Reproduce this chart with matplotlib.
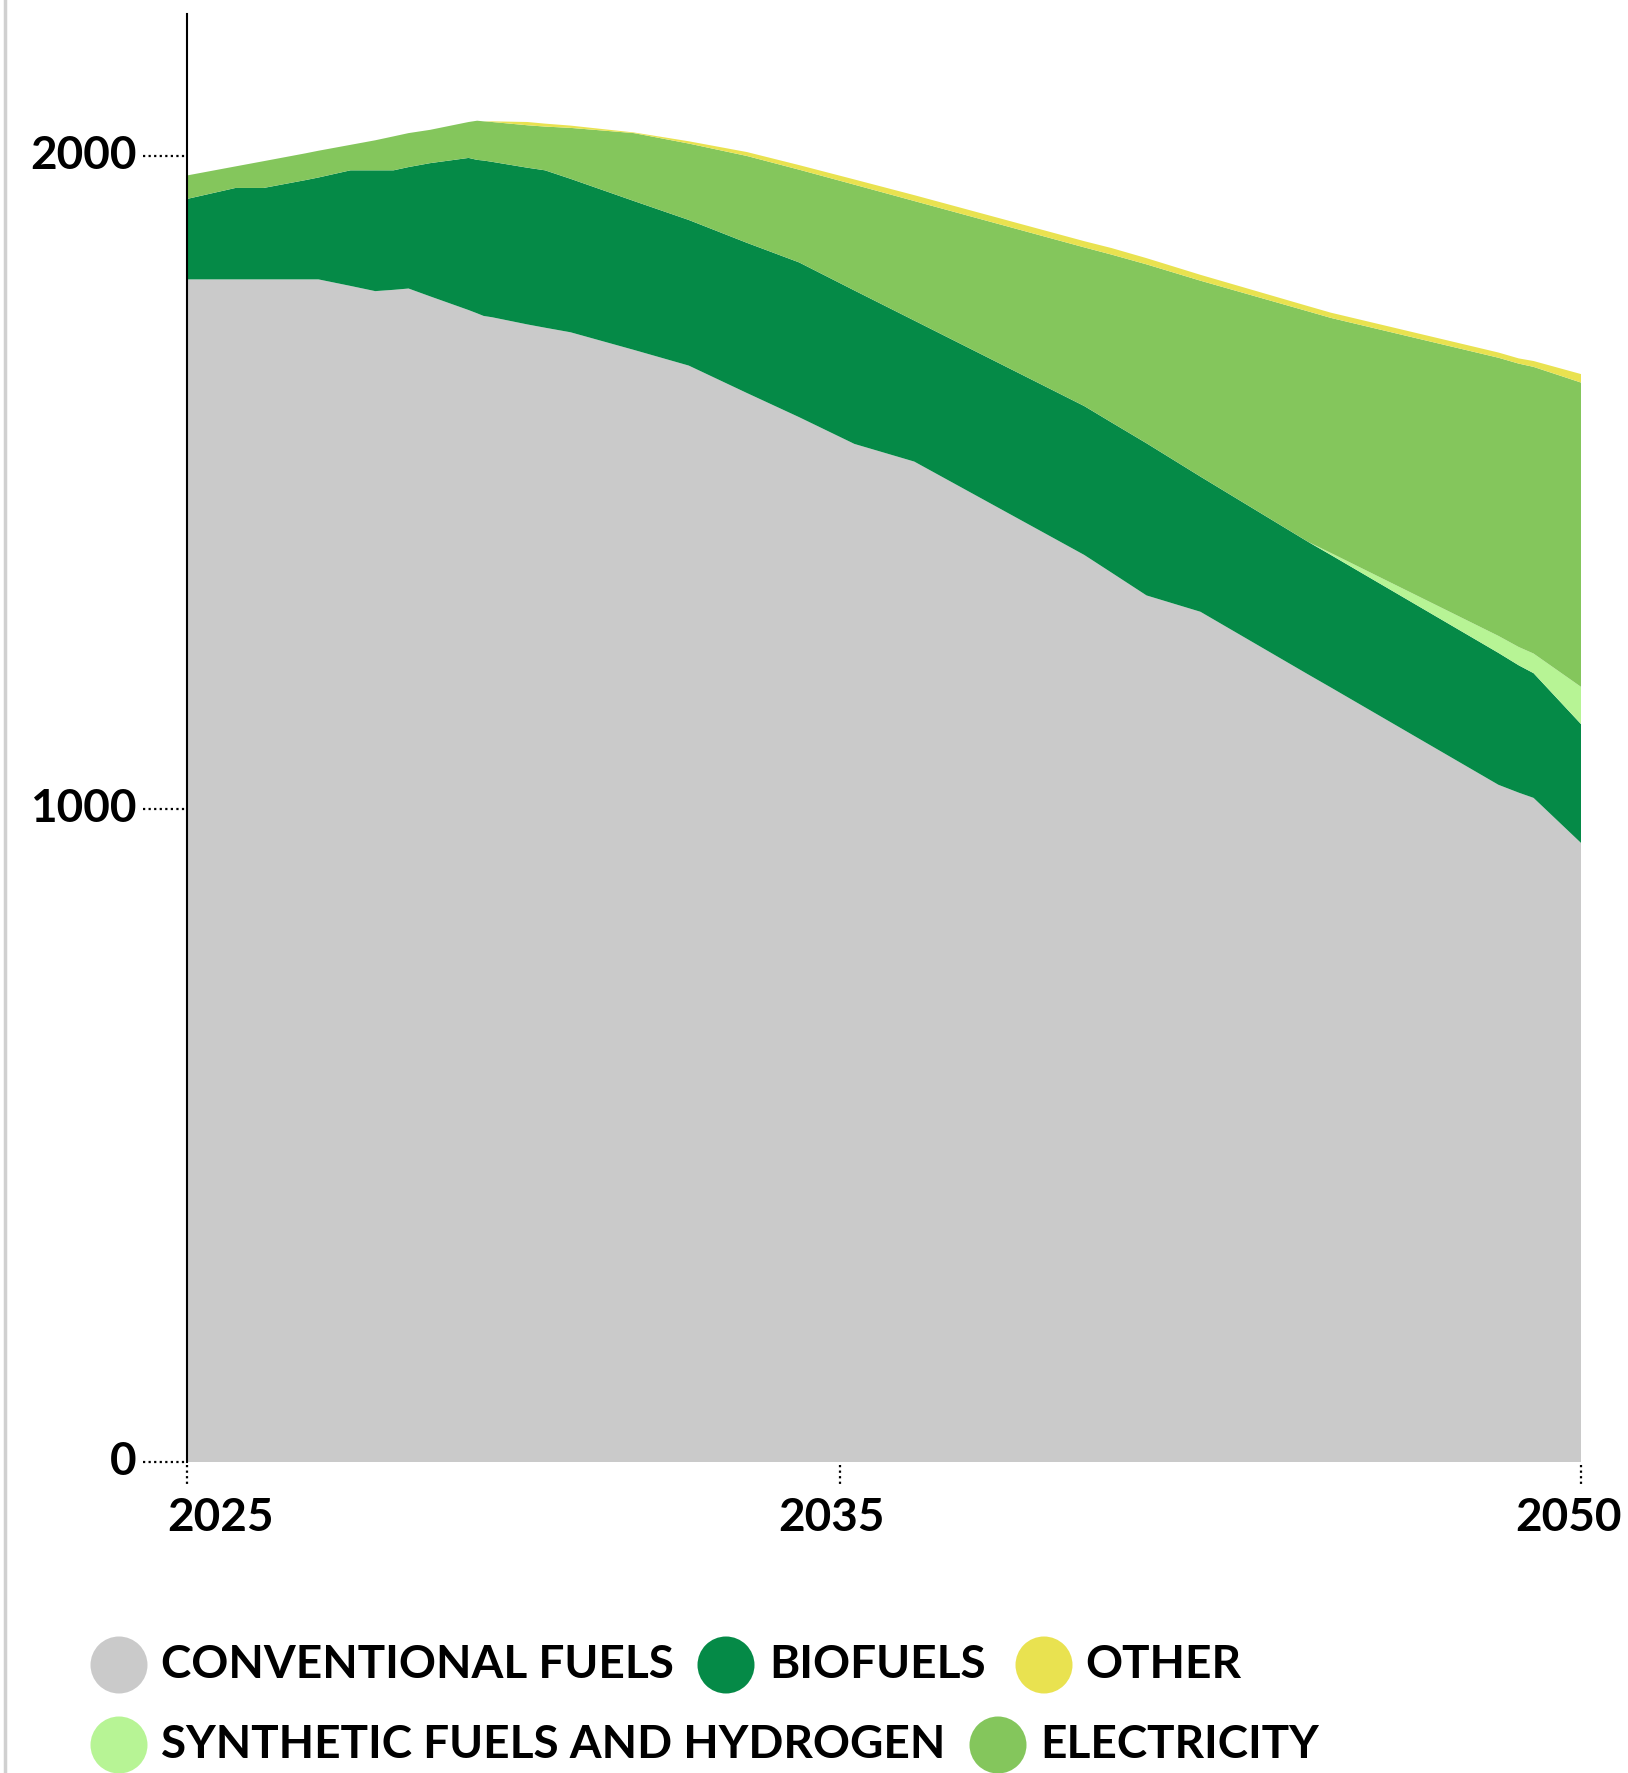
import numpy as np
import matplotlib
matplotlib.use("Agg")
import matplotlib.pyplot as plt
import matplotlib.transforms as mtransforms
from matplotlib.patches import Ellipse
from matplotlib.lines import Line2D

plt.rcParams['font.family'] = ['Lato', 'DejaVu Sans']

# Stacked energy demand by carrier
years = [2025.00, 2025.75, 2026.18, 2026.82, 2027.02, 2027.51, 2027.89, 2028.17,
         2028.40, 2028.73, 2029.32, 2029.45, 2029.55, 2029.68, 2030.22, 2030.49,
         2030.88, 2031.85, 2032.69, 2033.58, 2034.38, 2035.30, 2036.51, 2039.95,
         2040.50, 2041.21, 2042.30, 2044.48, 2044.94, 2048.33, 2048.74, 2049.04,
         2050.00]
conventional = [1811, 1811, 1811, 1811, 1811, 1801, 1793, 1795, 1797, 1785, 1764,
                1759, 1755, 1753, 1742, 1737, 1730, 1703, 1679, 1637, 1600, 1559,
                1532, 1389, 1362, 1327, 1302, 1206, 1186, 1037, 1025, 1017, 948]
biofuels = [123, 140, 140, 152, 156, 177, 185, 183, 186, 204, 233, 235, 238, 238,
            240, 241, 235, 228, 223, 230, 237, 235, 216, 228, 230, 233, 207, 203,
            203, 202, 195, 191, 182]
synthetic = [0, 0, 0, 0, 0, 0, 0, 0, 0, 0, 0, 0, 0, 0, 0, 0, 0, 0, 0, 0, 0, 0, 0,
             0, 0, 0, 0, 0, 3, 26, 28, 30, 57]
electricity = [36, 33, 41, 41, 41, 39, 46, 52, 52, 51, 55, 60, 60, 61, 65, 67, 78,
               104, 117, 133, 142, 162, 183, 243, 257, 274, 300, 353, 360, 426, 434,
               439, 466]
other = [0, 0, 0, 0, 0, 0, 0, 0, 0, 0, 0, 0, 0, 1, 5, 4.5, 3.5, 1, 3.5, 6, 7, 8, 9,
         9.5, 10, 9.5, 9, 8, 8, 8, 8, 9, 13]

x_ticks = [2025, 2035, 2050]
y_ticks = [0, 1000, 2000]

colors = ['#cacaca', '#058a47', '#b7f495', '#84c65c', '#e9e250']
legend_labels = ['CONVENTIONAL FUELS', 'BIOFUELS', 'OTHER',
                 'SYNTHETIC FUELS AND HYDROGEN', 'ELECTRICITY']
legend_colors = ['#cacaca', '#058a47', '#e9e250', '#b7f495', '#84c65c']
# legend positions in pixels (circle centre x, text x, row y)
legend_pos = [(119, 161, 1665), (726, 769, 1665), (1044, 1085, 1665),
              (119, 161, 1745), (998, 1040, 1745)]

W, H = 1628, 1773
fig = plt.figure(figsize=(W / 100, H / 100), dpi=100)
left, right, bottom, top = 186.5, 1581, 1462, 13.6
ax = fig.add_axes([left / W, 1 - bottom / H, (right - left) / W, (bottom - top) / H])


# the time axis is stretched differently before and after 2035
def fwd(x):
    x = np.asarray(x, dtype=float)
    return np.where(x <= 2035, (x - 2025) * 57.7, 577 + (x - 2035) * 655 / 15)


def inv(p):
    p = np.asarray(p, dtype=float)
    return np.where(p <= 577, 2025 + p / 57.7, 2035 + (p - 577) * 15 / 655)


ax.set_xscale('function', functions=(fwd, inv))
ax.stackplot(years, conventional, biofuels, synthetic, electricity, other,
             colors=colors, linewidth=0)
ax.set_xlim(2025, 2050)
ax.set_ylim(0, 2218)

for s in ['top', 'right', 'bottom']:
    ax.spines[s].set_visible(False)
ax.spines['left'].set_linewidth(1.5)
ax.spines['left'].set_color('black')
ax.set_xticks([])
ax.set_yticks([])
ax.minorticks_off()

aw = right - left
ah = bottom - top
fs = 33
ytr = ax.get_yaxis_transform()
for v in y_ticks:
    ax.plot([-44 / aw, 0], [v, v], transform=ytr, color='black', lw=1.6,
            ls=(0, (1, 1.5)), clip_on=False)
    ax.text(-50 / aw, v, str(v), transform=ytr, ha='right', va='center',
            fontsize=fs, fontweight='bold', color='black')

xtr = ax.get_xaxis_transform()
x_offsets = [34, -8.5, -12.5]
for yr, dx in zip(x_ticks, x_offsets):
    ax.plot([yr, yr], [-3 / ah, -25 / ah], transform=xtr, color='black', lw=1.6,
            ls=(0, (1, 1.5)), clip_on=False)
    tr = mtransforms.offset_copy(xtr, fig=fig, x=dx, y=0, units='dots')
    ax.text(yr, -56 / ah, str(yr), transform=tr, ha='center', va='center',
            fontsize=fs, fontweight='bold', color='black')

# page border on the left
fig.add_artist(Line2D([5 / W, 5 / W], [0, 1], color='#d0d0d0', lw=2.5))

# legend
for lab, col, (cx, tx, cy) in zip(legend_labels, legend_colors, legend_pos):
    fig.add_artist(Ellipse((cx / W, 1 - cy / H), 57 / W, 57 / H, color=col, lw=0))
    fig.text(tx / W, 1 - cy / H, lab, ha='left', va='center', fontsize=fs,
             fontweight='bold', color='black')

fig.savefig('out.png', dpi=100)
